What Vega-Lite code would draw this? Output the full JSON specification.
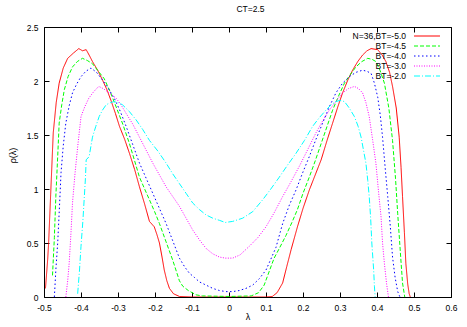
{
  "$schema": "https://vega.github.io/schema/vega-lite/v6.json",
  "width": 407,
  "height": 270,
  "autosize": "none",
  "padding": {"left": 44, "top": 27, "right": 16, "bottom": 30},
  "background": "white",
  "title": {"text": "CT=2.5", "fontSize": 8.5, "fontWeight": "normal", "color": "black", "offset": 10, "dx": 3, "font": "Liberation Sans"},
  "datasets": {
    "curves": [
      {"series":"N=36,BT=-5.0","lambda":-0.496,"rho":0.08},{"series":"N=36,BT=-5.0","lambda":-0.49,"rho":0.35},{"series":"N=36,BT=-5.0","lambda":-0.4875,"rho":0.5},{"series":"N=36,BT=-5.0","lambda":-0.482,"rho":0.95},{"series":"N=36,BT=-5.0","lambda":-0.475,"rho":1.52},{"series":"N=36,BT=-5.0","lambda":-0.467,"rho":1.8},{"series":"N=36,BT=-5.0","lambda":-0.459,"rho":1.98},{"series":"N=36,BT=-5.0","lambda":-0.448,"rho":2.12},{"series":"N=36,BT=-5.0","lambda":-0.436,"rho":2.21},{"series":"N=36,BT=-5.0","lambda":-0.42,"rho":2.26},{"series":"N=36,BT=-5.0","lambda":-0.406,"rho":2.3},{"series":"N=36,BT=-5.0","lambda":-0.396,"rho":2.28},{"series":"N=36,BT=-5.0","lambda":-0.386,"rho":2.29},{"series":"N=36,BT=-5.0","lambda":-0.378,"rho":2.24},{"series":"N=36,BT=-5.0","lambda":-0.369,"rho":2.18},{"series":"N=36,BT=-5.0","lambda":-0.355,"rho":2.1},{"series":"N=36,BT=-5.0","lambda":-0.342,"rho":2.01},{"series":"N=36,BT=-5.0","lambda":-0.33,"rho":1.92},{"series":"N=36,BT=-5.0","lambda":-0.319,"rho":1.82},{"series":"N=36,BT=-5.0","lambda":-0.307,"rho":1.7},{"series":"N=36,BT=-5.0","lambda":-0.296,"rho":1.58},{"series":"N=36,BT=-5.0","lambda":-0.282,"rho":1.46},{"series":"N=36,BT=-5.0","lambda":-0.269,"rho":1.33},{"series":"N=36,BT=-5.0","lambda":-0.255,"rho":1.18},{"series":"N=36,BT=-5.0","lambda":-0.242,"rho":1.02},{"series":"N=36,BT=-5.0","lambda":-0.228,"rho":0.86},{"series":"N=36,BT=-5.0","lambda":-0.215,"rho":0.7},{"series":"N=36,BT=-5.0","lambda":-0.202,"rho":0.65},{"series":"N=36,BT=-5.0","lambda":-0.195,"rho":0.58},{"series":"N=36,BT=-5.0","lambda":-0.188,"rho":0.5},{"series":"N=36,BT=-5.0","lambda":-0.181,"rho":0.37},{"series":"N=36,BT=-5.0","lambda":-0.175,"rho":0.25},{"series":"N=36,BT=-5.0","lambda":-0.168,"rho":0.15},{"series":"N=36,BT=-5.0","lambda":-0.161,"rho":0.08},{"series":"N=36,BT=-5.0","lambda":-0.15,"rho":0.03},{"series":"N=36,BT=-5.0","lambda":-0.134,"rho":0.005},{"series":"N=36,BT=-5.0","lambda":-0.1,"rho":0.0},{"series":"N=36,BT=-5.0","lambda":0.0,"rho":0.0},{"series":"N=36,BT=-5.0","lambda":0.1,"rho":0.0},{"series":"N=36,BT=-5.0","lambda":0.117,"rho":0.005},{"series":"N=36,BT=-5.0","lambda":0.13,"rho":0.04},{"series":"N=36,BT=-5.0","lambda":0.145,"rho":0.13},{"series":"N=36,BT=-5.0","lambda":0.156,"rho":0.28},{"series":"N=36,BT=-5.0","lambda":0.168,"rho":0.44},{"series":"N=36,BT=-5.0","lambda":0.185,"rho":0.65},{"series":"N=36,BT=-5.0","lambda":0.2,"rho":0.82},{"series":"N=36,BT=-5.0","lambda":0.217,"rho":0.99},{"series":"N=36,BT=-5.0","lambda":0.233,"rho":1.13},{"series":"N=36,BT=-5.0","lambda":0.249,"rho":1.27},{"series":"N=36,BT=-5.0","lambda":0.265,"rho":1.45},{"series":"N=36,BT=-5.0","lambda":0.28,"rho":1.61},{"series":"N=36,BT=-5.0","lambda":0.294,"rho":1.76},{"series":"N=36,BT=-5.0","lambda":0.307,"rho":1.89},{"series":"N=36,BT=-5.0","lambda":0.32,"rho":2.0},{"series":"N=36,BT=-5.0","lambda":0.334,"rho":2.1},{"series":"N=36,BT=-5.0","lambda":0.348,"rho":2.18},{"series":"N=36,BT=-5.0","lambda":0.361,"rho":2.24},{"series":"N=36,BT=-5.0","lambda":0.373,"rho":2.28},{"series":"N=36,BT=-5.0","lambda":0.384,"rho":2.3},{"series":"N=36,BT=-5.0","lambda":0.402,"rho":2.29},{"series":"N=36,BT=-5.0","lambda":0.414,"rho":2.24},{"series":"N=36,BT=-5.0","lambda":0.424,"rho":2.18},{"series":"N=36,BT=-5.0","lambda":0.434,"rho":2.08},{"series":"N=36,BT=-5.0","lambda":0.442,"rho":1.95},{"series":"N=36,BT=-5.0","lambda":0.452,"rho":1.75},{"series":"N=36,BT=-5.0","lambda":0.46,"rho":1.48},{"series":"N=36,BT=-5.0","lambda":0.465,"rho":1.2},{"series":"N=36,BT=-5.0","lambda":0.469,"rho":0.93},{"series":"N=36,BT=-5.0","lambda":0.474,"rho":0.6},{"series":"N=36,BT=-5.0","lambda":0.478,"rho":0.31},{"series":"N=36,BT=-5.0","lambda":0.483,"rho":0.12},{"series":"N=36,BT=-5.0","lambda":0.487,"rho":0.03},{"series":"N=36,BT=-5.0","lambda":0.49,"rho":0.0},

      {"series":"BT=-4.5","lambda":-0.477,"rho":0.2},{"series":"BT=-4.5","lambda":-0.472,"rho":0.55},{"series":"BT=-4.5","lambda":-0.468,"rho":0.93},{"series":"BT=-4.5","lambda":-0.463,"rho":1.3},{"series":"BT=-4.5","lambda":-0.459,"rho":1.61},{"series":"BT=-4.5","lambda":-0.452,"rho":1.78},{"series":"BT=-4.5","lambda":-0.445,"rho":1.92},{"series":"BT=-4.5","lambda":-0.435,"rho":2.04},{"series":"BT=-4.5","lambda":-0.423,"rho":2.13},{"series":"BT=-4.5","lambda":-0.41,"rho":2.18},{"series":"BT=-4.5","lambda":-0.396,"rho":2.21},{"series":"BT=-4.5","lambda":-0.383,"rho":2.19},{"series":"BT=-4.5","lambda":-0.369,"rho":2.16},{"series":"BT=-4.5","lambda":-0.353,"rho":2.09},{"series":"BT=-4.5","lambda":-0.337,"rho":2.02},{"series":"BT=-4.5","lambda":-0.321,"rho":1.9},{"series":"BT=-4.5","lambda":-0.305,"rho":1.76},{"series":"BT=-4.5","lambda":-0.287,"rho":1.6},{"series":"BT=-4.5","lambda":-0.269,"rho":1.42},{"series":"BT=-4.5","lambda":-0.255,"rho":1.26},{"series":"BT=-4.5","lambda":-0.242,"rho":1.11},{"series":"BT=-4.5","lambda":-0.228,"rho":1.0},{"series":"BT=-4.5","lambda":-0.215,"rho":0.9},{"series":"BT=-4.5","lambda":-0.201,"rho":0.79},{"series":"BT=-4.5","lambda":-0.188,"rho":0.68},{"series":"BT=-4.5","lambda":-0.17,"rho":0.51},{"series":"BT=-4.5","lambda":-0.152,"rho":0.34},{"series":"BT=-4.5","lambda":-0.134,"rho":0.15},{"series":"BT=-4.5","lambda":-0.125,"rho":0.1},{"series":"BT=-4.5","lambda":-0.11,"rho":0.06},{"series":"BT=-4.5","lambda":-0.089,"rho":0.02},{"series":"BT=-4.5","lambda":-0.072,"rho":0.01},{"series":"BT=-4.5","lambda":0.0,"rho":0.005},{"series":"BT=-4.5","lambda":0.06,"rho":0.01},{"series":"BT=-4.5","lambda":0.08,"rho":0.04},{"series":"BT=-4.5","lambda":0.095,"rho":0.11},{"series":"BT=-4.5","lambda":0.109,"rho":0.24},{"series":"BT=-4.5","lambda":0.122,"rho":0.36},{"series":"BT=-4.5","lambda":0.136,"rho":0.45},{"series":"BT=-4.5","lambda":0.154,"rho":0.57},{"series":"BT=-4.5","lambda":0.17,"rho":0.69},{"series":"BT=-4.5","lambda":0.185,"rho":0.81},{"series":"BT=-4.5","lambda":0.2,"rho":0.96},{"series":"BT=-4.5","lambda":0.217,"rho":1.11},{"series":"BT=-4.5","lambda":0.233,"rho":1.26},{"series":"BT=-4.5","lambda":0.249,"rho":1.42},{"series":"BT=-4.5","lambda":0.265,"rho":1.58},{"series":"BT=-4.5","lambda":0.28,"rho":1.73},{"series":"BT=-4.5","lambda":0.296,"rho":1.86},{"series":"BT=-4.5","lambda":0.312,"rho":1.98},{"series":"BT=-4.5","lambda":0.328,"rho":2.06},{"series":"BT=-4.5","lambda":0.343,"rho":2.13},{"series":"BT=-4.5","lambda":0.359,"rho":2.18},{"series":"BT=-4.5","lambda":0.375,"rho":2.21},{"series":"BT=-4.5","lambda":0.387,"rho":2.2},{"series":"BT=-4.5","lambda":0.397,"rho":2.18},{"series":"BT=-4.5","lambda":0.408,"rho":2.1},{"series":"BT=-4.5","lambda":0.42,"rho":1.98},{"series":"BT=-4.5","lambda":0.432,"rho":1.75},{"series":"BT=-4.5","lambda":0.442,"rho":1.45},{"series":"BT=-4.5","lambda":0.45,"rho":1.1},{"series":"BT=-4.5","lambda":0.456,"rho":0.77},{"series":"BT=-4.5","lambda":0.463,"rho":0.42},{"series":"BT=-4.5","lambda":0.469,"rho":0.13},{"series":"BT=-4.5","lambda":0.475,"rho":0.0},

      {"series":"BT=-4.0","lambda":-0.472,"rho":0.0},{"series":"BT=-4.0","lambda":-0.468,"rho":0.25},{"series":"BT=-4.0","lambda":-0.463,"rho":0.5},{"series":"BT=-4.0","lambda":-0.458,"rho":0.85},{"series":"BT=-4.0","lambda":-0.454,"rho":1.15},{"series":"BT=-4.0","lambda":-0.448,"rho":1.4},{"series":"BT=-4.0","lambda":-0.441,"rho":1.61},{"series":"BT=-4.0","lambda":-0.432,"rho":1.77},{"series":"BT=-4.0","lambda":-0.423,"rho":1.89},{"series":"BT=-4.0","lambda":-0.412,"rho":1.97},{"series":"BT=-4.0","lambda":-0.4,"rho":2.04},{"series":"BT=-4.0","lambda":-0.387,"rho":2.09},{"series":"BT=-4.0","lambda":-0.373,"rho":2.12},{"series":"BT=-4.0","lambda":-0.358,"rho":2.08},{"series":"BT=-4.0","lambda":-0.342,"rho":2.01},{"series":"BT=-4.0","lambda":-0.326,"rho":1.93},{"series":"BT=-4.0","lambda":-0.31,"rho":1.84},{"series":"BT=-4.0","lambda":-0.294,"rho":1.72},{"series":"BT=-4.0","lambda":-0.278,"rho":1.58},{"series":"BT=-4.0","lambda":-0.26,"rho":1.41},{"series":"BT=-4.0","lambda":-0.242,"rho":1.24},{"series":"BT=-4.0","lambda":-0.224,"rho":1.1},{"series":"BT=-4.0","lambda":-0.206,"rho":0.96},{"series":"BT=-4.0","lambda":-0.188,"rho":0.82},{"series":"BT=-4.0","lambda":-0.17,"rho":0.68},{"series":"BT=-4.0","lambda":-0.152,"rho":0.52},{"series":"BT=-4.0","lambda":-0.134,"rho":0.36},{"series":"BT=-4.0","lambda":-0.12,"rho":0.28},{"series":"BT=-4.0","lambda":-0.107,"rho":0.22},{"series":"BT=-4.0","lambda":-0.093,"rho":0.18},{"series":"BT=-4.0","lambda":-0.08,"rho":0.14},{"series":"BT=-4.0","lambda":-0.062,"rho":0.11},{"series":"BT=-4.0","lambda":-0.044,"rho":0.08},{"series":"BT=-4.0","lambda":-0.026,"rho":0.06},{"series":"BT=-4.0","lambda":-0.008,"rho":0.05},{"series":"BT=-4.0","lambda":0.01,"rho":0.05},{"series":"BT=-4.0","lambda":0.028,"rho":0.06},{"series":"BT=-4.0","lambda":0.046,"rho":0.08},{"series":"BT=-4.0","lambda":0.064,"rho":0.11},{"series":"BT=-4.0","lambda":0.082,"rho":0.17},{"series":"BT=-4.0","lambda":0.1,"rho":0.25},{"series":"BT=-4.0","lambda":0.113,"rho":0.35},{"series":"BT=-4.0","lambda":0.127,"rho":0.46},{"series":"BT=-4.0","lambda":0.145,"rho":0.68},{"series":"BT=-4.0","lambda":0.163,"rho":0.85},{"series":"BT=-4.0","lambda":0.181,"rho":0.99},{"series":"BT=-4.0","lambda":0.199,"rho":1.15},{"series":"BT=-4.0","lambda":0.217,"rho":1.3},{"series":"BT=-4.0","lambda":0.235,"rho":1.46},{"series":"BT=-4.0","lambda":0.253,"rho":1.61},{"series":"BT=-4.0","lambda":0.271,"rho":1.76},{"series":"BT=-4.0","lambda":0.289,"rho":1.89},{"series":"BT=-4.0","lambda":0.307,"rho":1.98},{"series":"BT=-4.0","lambda":0.325,"rho":2.04},{"series":"BT=-4.0","lambda":0.343,"rho":2.08},{"series":"BT=-4.0","lambda":0.361,"rho":2.1},{"series":"BT=-4.0","lambda":0.373,"rho":2.09},{"series":"BT=-4.0","lambda":0.384,"rho":2.07},{"series":"BT=-4.0","lambda":0.393,"rho":1.98},{"series":"BT=-4.0","lambda":0.402,"rho":1.85},{"series":"BT=-4.0","lambda":0.409,"rho":1.68},{"series":"BT=-4.0","lambda":0.415,"rho":1.48},{"series":"BT=-4.0","lambda":0.422,"rho":1.2},{"series":"BT=-4.0","lambda":0.429,"rho":0.93},{"series":"BT=-4.0","lambda":0.436,"rho":0.65},{"series":"BT=-4.0","lambda":0.442,"rho":0.37},{"series":"BT=-4.0","lambda":0.449,"rho":0.18},{"series":"BT=-4.0","lambda":0.456,"rho":0.05},{"series":"BT=-4.0","lambda":0.462,"rho":0.0},

      {"series":"BT=-3.0","lambda":-0.441,"rho":0.0},{"series":"BT=-3.0","lambda":-0.436,"rho":0.15},{"series":"BT=-3.0","lambda":-0.432,"rho":0.31},{"series":"BT=-3.0","lambda":-0.427,"rho":0.6},{"series":"BT=-3.0","lambda":-0.423,"rho":0.87},{"series":"BT=-3.0","lambda":-0.416,"rho":1.15},{"series":"BT=-3.0","lambda":-0.409,"rho":1.39},{"series":"BT=-3.0","lambda":-0.4,"rho":1.67},{"series":"BT=-3.0","lambda":-0.39,"rho":1.76},{"series":"BT=-3.0","lambda":-0.379,"rho":1.84},{"series":"BT=-3.0","lambda":-0.366,"rho":1.9},{"series":"BT=-3.0","lambda":-0.352,"rho":1.95},{"series":"BT=-3.0","lambda":-0.34,"rho":1.93},{"series":"BT=-3.0","lambda":-0.328,"rho":1.9},{"series":"BT=-3.0","lambda":-0.316,"rho":1.87},{"series":"BT=-3.0","lambda":-0.305,"rho":1.84},{"series":"BT=-3.0","lambda":-0.292,"rho":1.78},{"series":"BT=-3.0","lambda":-0.278,"rho":1.7},{"series":"BT=-3.0","lambda":-0.26,"rho":1.6},{"series":"BT=-3.0","lambda":-0.242,"rho":1.48},{"series":"BT=-3.0","lambda":-0.224,"rho":1.36},{"series":"BT=-3.0","lambda":-0.206,"rho":1.24},{"series":"BT=-3.0","lambda":-0.188,"rho":1.13},{"series":"BT=-3.0","lambda":-0.17,"rho":1.02},{"series":"BT=-3.0","lambda":-0.152,"rho":0.93},{"series":"BT=-3.0","lambda":-0.134,"rho":0.84},{"series":"BT=-3.0","lambda":-0.116,"rho":0.73},{"series":"BT=-3.0","lambda":-0.098,"rho":0.62},{"series":"BT=-3.0","lambda":-0.08,"rho":0.53},{"series":"BT=-3.0","lambda":-0.062,"rho":0.45},{"series":"BT=-3.0","lambda":-0.044,"rho":0.4},{"series":"BT=-3.0","lambda":-0.026,"rho":0.37},{"series":"BT=-3.0","lambda":-0.01,"rho":0.36},{"series":"BT=-3.0","lambda":0.01,"rho":0.36},{"series":"BT=-3.0","lambda":0.03,"rho":0.39},{"series":"BT=-3.0","lambda":0.055,"rho":0.47},{"series":"BT=-3.0","lambda":0.078,"rho":0.55},{"series":"BT=-3.0","lambda":0.1,"rho":0.65},{"series":"BT=-3.0","lambda":0.122,"rho":0.78},{"series":"BT=-3.0","lambda":0.145,"rho":0.93},{"series":"BT=-3.0","lambda":0.168,"rho":1.07},{"series":"BT=-3.0","lambda":0.19,"rho":1.21},{"series":"BT=-3.0","lambda":0.212,"rho":1.36},{"series":"BT=-3.0","lambda":0.235,"rho":1.52},{"series":"BT=-3.0","lambda":0.253,"rho":1.63},{"series":"BT=-3.0","lambda":0.271,"rho":1.73},{"series":"BT=-3.0","lambda":0.289,"rho":1.81},{"series":"BT=-3.0","lambda":0.307,"rho":1.89},{"series":"BT=-3.0","lambda":0.323,"rho":1.93},{"series":"BT=-3.0","lambda":0.339,"rho":1.95},{"series":"BT=-3.0","lambda":0.35,"rho":1.93},{"series":"BT=-3.0","lambda":0.361,"rho":1.89},{"series":"BT=-3.0","lambda":0.37,"rho":1.8},{"series":"BT=-3.0","lambda":0.379,"rho":1.67},{"series":"BT=-3.0","lambda":0.388,"rho":1.46},{"series":"BT=-3.0","lambda":0.397,"rho":1.24},{"series":"BT=-3.0","lambda":0.404,"rho":0.98},{"series":"BT=-3.0","lambda":0.411,"rho":0.74},{"series":"BT=-3.0","lambda":0.415,"rho":0.5},{"series":"BT=-3.0","lambda":0.42,"rho":0.31},{"series":"BT=-3.0","lambda":0.426,"rho":0.12},{"series":"BT=-3.0","lambda":0.431,"rho":0.0},

      {"series":"BT=-2.0","lambda":-0.409,"rho":0.03},{"series":"BT=-2.0","lambda":-0.404,"rho":0.25},{"series":"BT=-2.0","lambda":-0.4,"rho":0.47},{"series":"BT=-2.0","lambda":-0.395,"rho":0.7},{"series":"BT=-2.0","lambda":-0.391,"rho":0.93},{"series":"BT=-2.0","lambda":-0.388,"rho":1.1},{"series":"BT=-2.0","lambda":-0.386,"rho":1.27},{"series":"BT=-2.0","lambda":-0.378,"rho":1.3},{"series":"BT=-2.0","lambda":-0.369,"rho":1.48},{"series":"BT=-2.0","lambda":-0.36,"rho":1.58},{"series":"BT=-2.0","lambda":-0.351,"rho":1.67},{"series":"BT=-2.0","lambda":-0.342,"rho":1.73},{"series":"BT=-2.0","lambda":-0.332,"rho":1.78},{"series":"BT=-2.0","lambda":-0.32,"rho":1.8},{"series":"BT=-2.0","lambda":-0.31,"rho":1.81},{"series":"BT=-2.0","lambda":-0.299,"rho":1.8},{"series":"BT=-2.0","lambda":-0.288,"rho":1.78},{"series":"BT=-2.0","lambda":-0.27,"rho":1.72},{"series":"BT=-2.0","lambda":-0.251,"rho":1.64},{"series":"BT=-2.0","lambda":-0.233,"rho":1.55},{"series":"BT=-2.0","lambda":-0.215,"rho":1.45},{"series":"BT=-2.0","lambda":-0.192,"rho":1.35},{"series":"BT=-2.0","lambda":-0.17,"rho":1.24},{"series":"BT=-2.0","lambda":-0.152,"rho":1.14},{"series":"BT=-2.0","lambda":-0.134,"rho":1.05},{"series":"BT=-2.0","lambda":-0.116,"rho":0.96},{"series":"BT=-2.0","lambda":-0.098,"rho":0.87},{"series":"BT=-2.0","lambda":-0.08,"rho":0.81},{"series":"BT=-2.0","lambda":-0.062,"rho":0.76},{"series":"BT=-2.0","lambda":-0.044,"rho":0.73},{"series":"BT=-2.0","lambda":-0.026,"rho":0.71},{"series":"BT=-2.0","lambda":-0.01,"rho":0.69},{"series":"BT=-2.0","lambda":0.01,"rho":0.7},{"series":"BT=-2.0","lambda":0.037,"rho":0.73},{"series":"BT=-2.0","lambda":0.064,"rho":0.79},{"series":"BT=-2.0","lambda":0.091,"rho":0.9},{"series":"BT=-2.0","lambda":0.113,"rho":1.0},{"series":"BT=-2.0","lambda":0.136,"rho":1.11},{"series":"BT=-2.0","lambda":0.158,"rho":1.22},{"series":"BT=-2.0","lambda":0.181,"rho":1.33},{"series":"BT=-2.0","lambda":0.204,"rho":1.45},{"series":"BT=-2.0","lambda":0.226,"rho":1.58},{"series":"BT=-2.0","lambda":0.244,"rho":1.66},{"series":"BT=-2.0","lambda":0.262,"rho":1.73},{"series":"BT=-2.0","lambda":0.276,"rho":1.78},{"series":"BT=-2.0","lambda":0.289,"rho":1.81},{"series":"BT=-2.0","lambda":0.3,"rho":1.82},{"series":"BT=-2.0","lambda":0.312,"rho":1.81},{"series":"BT=-2.0","lambda":0.325,"rho":1.75},{"series":"BT=-2.0","lambda":0.339,"rho":1.67},{"series":"BT=-2.0","lambda":0.349,"rho":1.58},{"series":"BT=-2.0","lambda":0.357,"rho":1.48},{"series":"BT=-2.0","lambda":0.364,"rho":1.35},{"series":"BT=-2.0","lambda":0.37,"rho":1.24},{"series":"BT=-2.0","lambda":0.375,"rho":1.08},{"series":"BT=-2.0","lambda":0.379,"rho":0.93},{"series":"BT=-2.0","lambda":0.383,"rho":0.72},{"series":"BT=-2.0","lambda":0.386,"rho":0.5},{"series":"BT=-2.0","lambda":0.389,"rho":0.35},{"series":"BT=-2.0","lambda":0.391,"rho":0.25},{"series":"BT=-2.0","lambda":0.393,"rho":0.1},{"series":"BT=-2.0","lambda":0.395,"rho":0.0}
    ]
  },
  "data": {"name": "curves"},
  "layer": [
    {
      "mark": {"type": "line", "strokeWidth": 1, "clip": true},
      "encoding": {
        "x": {"field": "lambda", "type": "quantitative",
              "scale": {"domain": [-0.5, 0.6], "nice": false, "zero": false},
              "axis": {"orient": "bottom", "title": "λ", "values": [-0.5,-0.4,-0.3,-0.2,-0.1,0,0.1,0.2,0.3,0.4,0.5,0.6],
                       "format": ".1~f", "labelExpr": "replace(datum.label, '\u2212', '-')",
                       "titleY": 22, "titleBaseline": "alphabetic"}},
        "y": {"field": "rho", "type": "quantitative",
              "scale": {"domain": [0, 2.5], "nice": false},
              "axis": {"orient": "left", "title": "ρ(λ)", "values": [0,0.5,1,1.5,2,2.5], "format": ".1~f",
                       "titleX": -32, "titleY": 128, "titleAngle": -90, "titleBaseline": "middle", "titleAlign": "center"}},
        "color": {"field": "series", "type": "nominal",
                  "scale": {"domain": ["N=36,BT=-5.0","BT=-4.5","BT=-4.0","BT=-3.0","BT=-2.0"],
                            "range": ["#ff0000","#00ff00","#0000ff","#ff00ff","#00ffff"]},
                  "legend": {"title": null}},
        "strokeDash": {"field": "series", "type": "nominal",
                  "scale": {"domain": ["N=36,BT=-5.0","BT=-4.5","BT=-4.0","BT=-3.0","BT=-2.0"],
                            "range": [[1,0],[4,2],[1.5,2.5],[1,1.5],[6,2,1,2]]},
                  "legend": {"title": null}},
        "order": {"field": "lambda", "type": "quantitative"}
      }
    },
    {
      "mark": {"type": "point", "opacity": 0},
      "encoding": {
        "x": {"field": "lambda", "type": "quantitative",
              "scale": {"domain": [-0.5, 0.6], "nice": false, "zero": false},
              "axis": {"orient": "top", "title": null, "labels": false, "values": [-0.5,-0.4,-0.3,-0.2,-0.1,0,0.1,0.2,0.3,0.4,0.5,0.6]}},
        "y": {"field": "rho", "type": "quantitative",
              "scale": {"domain": [0, 2.5], "nice": false},
              "axis": {"orient": "right", "title": null, "labels": false, "values": [0,0.5,1,1.5,2,2.5]}}
      }
    }
  ],
  "resolve": {"axis": {"x": "independent", "y": "independent"}},
  "config": {
    "font": "Liberation Sans",
    "view": {"stroke": "black", "strokeWidth": 1},
    "axis": {
      "domain": false, "grid": false,
      "ticks": true, "tickSize": -5, "tickColor": "black", "tickWidth": 1,
      "labelFontSize": 8.5, "labelColor": "black", "labelPadding": 11,
      "titleFontSize": 9, "titleFontWeight": "normal", "titleColor": "black",
      "labelFlush": false, "labelOverlap": false
    },
    "legend": {
      "orient": "none", "legendX": 377.5, "legendY": 3.5, "padding": 0,
      "symbolType": "M-2.74,0H2.74", "symbolSize": 90, "symbolStrokeWidth": 1,
      "labelAlign": "right", "labelOffset": -26.5, "labelFontSize": 8.5, "labelColor": "black",
      "rowPadding": 0, "labelLimit": 0
    }
  }
}
